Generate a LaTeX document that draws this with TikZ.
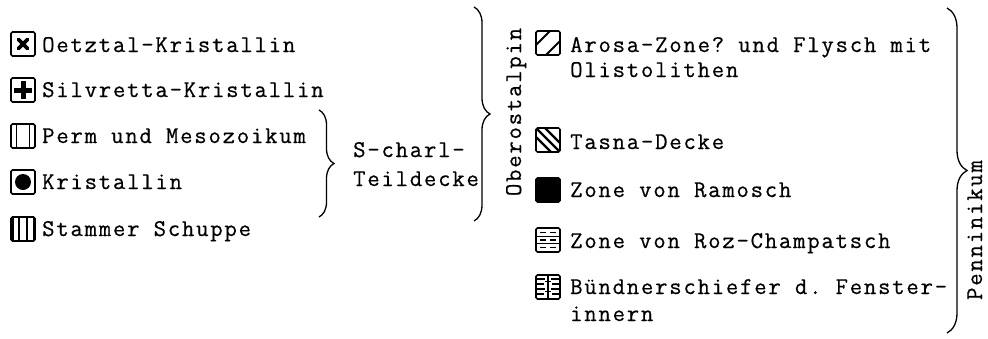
\documentclass[tikz,border=0pt]{standalone}
\usepackage{fontspec}
\setmonofont[LetterSpace=7.5,FakeBold=0.6]{Latin Modern Mono}
\usetikzlibrary{decorations.pathreplacing}
\begin{document}
\begin{tikzpicture}[x=1pt,y=-1pt,
  every node/.style={font=\ttfamily\fontsize{24}{28}\selectfont},
  lbl/.style={anchor=base west, inner sep=0pt},
  icon/.style={draw, line width=1.6pt, rounded corners=1.5pt, minimum size=24pt, inner sep=0pt},
  bracestyle/.style={line width=1.3pt, decorate, decoration={brace, amplitude=#1}},
  vlab/.style={rotate=90, anchor=base, inner sep=0pt}]
\useasboundingbox (0,0) rectangle (988,338);

% left icons
\node[icon, path picture={\begin{scope}[shift={(path picture bounding box.center)}]
  \draw[line width=3.6pt, line cap=round] (-4.5,-4.5)--(4.5,4.5) (-4.5,4.5)--(4.5,-4.5);\end{scope}}] (i1) at (23,44) {};
\node[icon, path picture={\begin{scope}[shift={(path picture bounding box.center)}]
  \draw[line width=5pt] (-9,0)--(9,0) (0,-9)--(0,9);\end{scope}}] (i2) at (23,90) {};
\node[icon, path picture={\begin{scope}[shift={(path picture bounding box.center)}]
  \draw[line width=1.4pt] (-6.5,-13)--(-6.5,13) (6.5,-13)--(6.5,13);\end{scope}}] (i3) at (23,136) {};
\node[icon, path picture={\begin{scope}[shift={(path picture bounding box.center)}]
  \fill (0,0) circle (8);\end{scope}}] (i4) at (23,182) {};
\node[icon, path picture={\begin{scope}[shift={(path picture bounding box.center)}]
  \draw[line width=3pt] (-11,-13)--(-11,13) (11,-13)--(11,13);
  \draw[line width=2.2pt] (-4,-13)--(-4,13) (4,-13)--(4,13);\end{scope}}] (i5) at (23,229) {};

% left texts
\node[lbl] (t1) at (42,52) {Oetztal-Kristallin};
\node[lbl] (t2) at (42,97) {Silvretta-Kristallin};
\node[lbl] (t3) at (42,143) {Perm und Mesozoikum};
\node[lbl] (t4) at (42,189) {Kristallin};
\node[lbl] (t5) at (42,236) {Stammer Schuppe};

% S-charl brace
\coordinate (b1a) at (319,110);
\coordinate (b1b) at (319,217);
\draw[bracestyle=15pt] (b1a) -- (b1b);
\node[lbl] (s1) at (353,157) {S-charl-};
\node[lbl] (s2) at (353,186) {Teildecke};

% Oberostalpin brace
\coordinate (b2a) at (474,7);
\coordinate (b2b) at (474,221);
\draw[bracestyle=16pt] (b2a) -- (b2b);
\node[vlab] (ob) at (521,112) {Oberostalpin};

% right icons
\node[icon, path picture={\begin{scope}[shift={(path picture bounding box.center)}]
  \draw[line width=2pt] (-13,3)--(3,-13) (-3,13)--(13,-3);\end{scope}}] (r1) at (548,43) {};
\node[icon, path picture={\begin{scope}[shift={(path picture bounding box.center)}]
  \draw[line width=2.2pt] (-13,-13)--(13,13) (-4,-13)--(13,4) (-13,-4)--(4,13);\end{scope}}] (r2) at (548,140) {};
\node[icon, fill=black] (r3) at (548,190) {};
\node[icon, path picture={\begin{scope}[shift={(path picture bounding box.center)}]
  \draw[line width=1.4pt] (-13,-3.5)--(13,-3.5) (-13,3.5)--(13,3.5);
  \draw[line width=1.4pt] (-8,-7.5)--(-2,-7.5) (2,-7.5)--(8,-7.5)
     (-8,0)--(-2,0) (2,0)--(8,0) (-8,7.5)--(-2,7.5) (2,7.5)--(8,7.5);\end{scope}}] (r4) at (548,240) {};
\node[icon, path picture={\begin{scope}[shift={(path picture bounding box.center)}]
  \draw[line width=1.4pt] (0,-13)--(0,13);
  \draw[line width=1.3pt] (-13,-8)--(-3,-8) (3,-8)--(13,-8) (-13,-3)--(-4,-3) (4,-3)--(13,-3)
     (-13,2)--(-3,2) (3,2)--(13,2) (-13,7)--(-4,7) (4,7)--(13,7)
     (-3,-5.5)--(3,-5.5) (-3,4.5)--(3,4.5);\end{scope}}] (r5) at (548,287) {};

% right texts
\node[lbl] (u1) at (570,52) {Arosa-Zone? und Flysch mit};
\node[lbl] (u1b) at (570,77) {Olistolithen};
\node[lbl] (u2) at (570,149) {Tasna-Decke};
\node[lbl] (u3) at (570,197) {Zone von Ramosch};
\node[lbl] (u4) at (570,248) {Zone von Roz-Champatsch};
\node[lbl] (u5) at (570,294) {Bündnerschiefer d. Fenster-};
\node[lbl] (u5b) at (570,321) {innern};

% Penninikum brace
\coordinate (b3a) at (947,8);
\coordinate (b3b) at (947,333);
\draw[bracestyle=20pt] (b3a) -- (b3b);
\node[vlab] (pe) at (982,230) {Penninikum};
\end{tikzpicture}
\end{document}
